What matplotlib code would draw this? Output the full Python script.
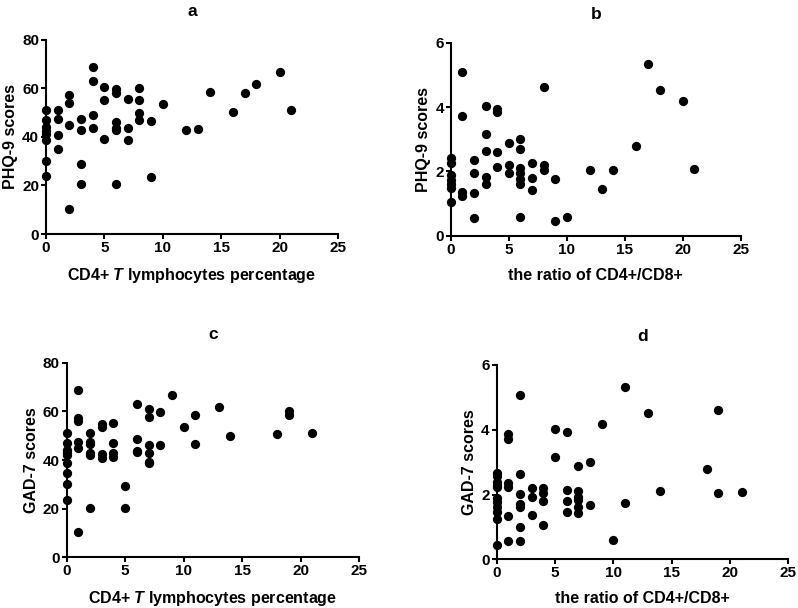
import numpy as np
import matplotlib
matplotlib.use("Agg")
import matplotlib.pyplot as plt

plt.rcParams['font.family'] = ['Liberation Sans', 'DejaVu Sans']
plt.rcParams['font.weight'] = 'bold'
plt.rcParams['mathtext.fontset'] = 'custom'
plt.rcParams['mathtext.bfit'] = 'Liberation Sans:italic:bold'

# panel a: CD4+ T percentage vs PHQ-9
a_x = [0, 0, 0, 0, 0, 0, 0, 0,
       1, 1, 1, 1,
       2, 2, 2, 2,
       3, 3, 3, 3,
       4, 4, 4, 4,
       5, 5, 5,
       6, 6, 6, 6, 6, 6,
       7, 7, 7,
       8, 8, 8, 8,
       9, 9, 10, 12, 13, 14, 16, 17, 18, 20, 21]
a_y = [51, 47, 44, 42.5, 41.2, 38.6, 30.1, 23.8,
       51, 47.3, 40.7, 34.8,
       57.1, 53.7, 44.7, 10.4,
       47.3, 42.7, 29, 20.4,
       68.8, 62.9, 48.8, 43.8,
       60.5, 55.3, 39.2,
       59.5, 58.1, 46.2, 43.8, 42.7, 20.4,
       55.6, 43.7, 38.6,
       60.1, 55.1, 49.9, 46.8,
       46.3, 23.6, 53.4, 42.7, 43.3, 58.4, 50.4, 58.2, 61.6, 66.6, 51]

# panel b: CD4+/CD8+ ratio vs PHQ-9
b_x = [0, 0, 0, 0, 0, 0, 0,
       1, 1, 1, 1,
       2, 2, 2, 2,
       3, 3, 3, 3, 3,
       4, 4, 4, 4,
       5, 5, 5,
       6, 6, 6, 6, 6, 6, 6,
       7, 7, 7,
       8, 8, 8,
       9, 9, 10, 12, 13, 14, 16, 17, 18, 20, 21]
b_y = [2.41, 2.26, 1.88, 1.74, 1.6, 1.48, 1.04,
       5.09, 3.71, 1.37, 1.24,
       2.36, 1.94, 1.34, 0.57,
       4.03, 3.17, 2.65, 1.82, 1.62,
       3.94, 3.84, 2.61, 2.15,
       2.88, 2.21, 1.94,
       3.01, 2.70, 2.12, 1.94, 1.76, 1.6, 0.58,
       2.26, 1.79, 1.41,
       4.61, 2.21, 2.05,
       1.76, 0.46, 0.6, 2.04, 1.45, 2.05, 2.79, 5.32, 4.52, 4.18, 2.09]

# panel c: CD4+ T percentage vs GAD-7
c_x = [0, 0, 0, 0, 0, 0, 0, 0, 0,
       1, 1, 1, 1, 1, 1,
       2, 2, 2, 2, 2, 2,
       3, 3, 3, 3,
       4, 4, 4, 4,
       5, 5,
       6, 6, 6, 6,
       7, 7, 7, 7, 7, 7,
       8, 8, 9, 10, 11, 11, 13, 14, 18, 19, 19, 21]
c_y = [51, 47.1, 44.1, 43, 42.1, 38.6, 34.8, 30.1, 23.6,
       68.8, 57.4, 56.2, 47.5, 44.8, 10.5,
       51, 47.5, 46.6, 43, 41.9, 20.1,
       54.8, 53.7, 42.3, 40.7,
       55.3, 46.8, 42.7, 41.1,
       29.3, 20.1,
       62.9, 48.8, 43.8, 43.3,
       60.8, 57.8, 46.2, 43, 39.3, 38.6,
       59.7, 46.2, 66.7, 53.4, 58.5, 46.4, 61.6, 49.9, 50.5, 60.1, 58.5, 51.1]

# panel d: CD4+/CD8+ ratio vs GAD-7
d_x = [0, 0, 0, 0, 0, 0, 0, 0, 0, 0, 0,
       1, 1, 1, 1, 1, 1,
       2, 2, 2, 2, 2, 2, 2,
       3, 3, 3,
       4, 4, 4, 4,
       5, 5,
       6, 6, 6, 6,
       7, 7, 7, 7, 7, 7,
       8, 8, 9, 10, 11, 11, 13, 14, 18, 19, 19, 21]
d_y = [2.68, 2.58, 2.40, 2.29, 2.22, 1.88, 1.78, 1.63, 1.47, 1.23, 0.44,
       3.86, 3.70, 2.37, 2.24, 1.34, 0.58,
       5.07, 2.64, 2.02, 1.71, 1.61, 1.01, 0.58,
       2.21, 1.93, 1.36,
       2.21, 2.04, 1.81, 1.05,
       4.02, 3.15,
       3.94, 2.14, 1.80, 1.45,
       2.87, 2.11, 1.93, 1.83, 1.61, 1.42,
       2.99, 1.68, 4.17, 0.6, 5.31, 1.75, 4.52, 2.11, 2.79, 4.61, 2.04, 2.08]

xlab_cd4 = r'CD4+ $\mathbfit{T}$ lymphocytes percentage'
xlab_ratio = 'the ratio of CD4+/CD8+'

panels = [
    ('a', a_x, a_y, xlab_cd4, 'PHQ-9 scores', 80, 20, [0.0576, 0.615, 0.366, 0.320]),
    ('b', b_x, b_y, xlab_ratio, 'PHQ-9 scores', 6, 2, [0.5648, 0.612, 0.3634, 0.318]),
    ('c', c_x, c_y, xlab_cd4, 'GAD-7 scores', 80, 20, [0.0836, 0.0834, 0.3663, 0.320]),
    ('d', d_x, d_y, xlab_ratio, 'GAD-7 scores', 6, 2, [0.6224, 0.0801, 0.3654, 0.3196]),
]

fig = plt.figure(figsize=(7.98, 6.08), dpi=100)

for title, xs, ys, xlab, ylab, ymax, ystep, pos in panels:
    ax = fig.add_axes(pos)
    ax.scatter(xs, ys, s=32, color='black', clip_on=False, zorder=3)
    ax.set_xlim(0, 25)
    ax.set_ylim(0, ymax)
    ax.set_xticks(np.arange(0, 26, 5))
    ax.set_yticks(np.arange(0, ymax + 0.1, ystep))
    ax.spines['top'].set_visible(False)
    ax.spines['right'].set_visible(False)
    for s in ['left', 'bottom']:
        ax.spines[s].set_linewidth(1.5)
    ax.tick_params(direction='out', length=3.5, width=1.5, labelsize=11, pad=1.5)
    for lab in ax.get_xticklabels() + ax.get_yticklabels():
        lab.set_fontweight('bold')
    ax.set_xlabel(xlab, fontsize=11.5, fontweight='bold', labelpad=8)
    ax.set_ylabel(ylab, fontsize=11.5, fontweight='bold', labelpad=3)
    ax.set_title(title, fontsize=12.5, fontweight='bold', pad=17)

fig.savefig('out.png', dpi=100)
